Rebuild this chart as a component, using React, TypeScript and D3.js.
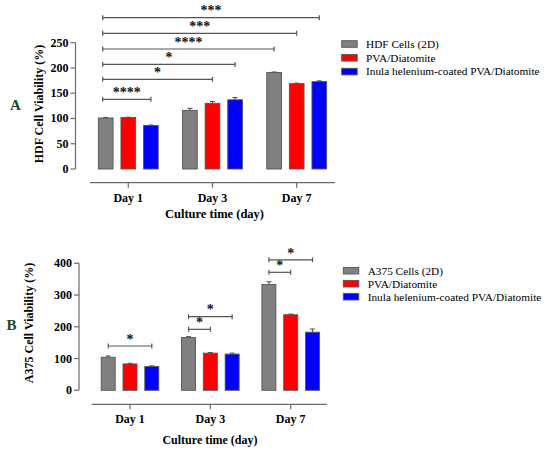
import React from "react";
import * as d3 from "d3";

// ---------- Data ----------
const days = ["Day 1", "Day 3", "Day 7"];

const seriesA = ["HDF Cells (2D)", "PVA/Diatomite", "Inula helenium-coated PVA/Diatomite"];
const hdfGray = [101, 116, 191];
const hdfRed = [102, 130, 169];
const hdfBlue = [86, 137, 173];
const hdfGrayErr = [1, 4, 1];
const hdfRedErr = [0.5, 3.5, 1];
const hdfBlueErr = [1, 4.5, 1.5];
const yTicksA = [0, 50, 100, 150, 200, 250];
// comparisons: [fromDay, fromSeries, toDay, toSeries, level, label]
const sigA: [number, number, number, number, number, string][] = [
  [0, 0, 0, 2, 138, "****"],
  [0, 0, 1, 1, 177.5, "*"],
  [0, 0, 1, 2, 207, "*"],
  [0, 0, 2, 0, 237.5, "****"],
  [0, 0, 2, 1, 268.5, "***"],
  [0, 0, 2, 2, 299.5, "***"],
];

const seriesB = ["A375 Cells (2D)", "PVA/Diatomite", "Inula helenium-coated PVA/Diatomite"];
const a375Gray = [104, 166, 333];
const a375Red = [83, 117, 238];
const a375Blue = [75, 114, 183];
const a375GrayErr = [4, 3, 9];
const a375RedErr = [2, 2, 2];
const a375BlueErr = [2, 3, 10];
const yTicksB = [0, 100, 200, 300, 400];
const sigB: [number, number, number, number, number, string][] = [
  [0, 0, 0, 2, 139.5, "*"],
  [1, 0, 1, 1, 192, "*"],
  [1, 0, 1, 2, 232, "*"],
  [2, 0, 2, 1, 371.6, "*"],
  [2, 0, 2, 2, 411, "*"],
];

const colors = ["#808080", "#ff0000", "#0000ff"];
const FONT = "'Liberation Serif', 'Times New Roman', serif";

type PanelCfg = {
  letter: string;
  letterX: number;
  letterY: number;
  yLabel: string;
  yLabelX: number;
  yLabelY: number;
  yDomain: [number, number];
  yRange: [number, number];
  yTicks: number[];
  axisX: number;
  xAxisY: number;
  xAxisX0: number;
  xAxisX1: number;
  groupRange: [number, number];
  pitch: number;
  bw: number;
  values: number[][];
  errs: number[][];
  sig: [number, number, number, number, number, string][];
  startOffset: number;
  dayLabelY: number;
  xTitleX: number;
  xTitleY: number;
  xTitleSize: number;
  series: string[];
  legX: number;
  legY0: number;
  legStep: number;
  legTextX: number;
};

function Panel({ c }: { c: PanelCfg }) {
  const y = d3.scaleLinear().domain(c.yDomain).range(c.yRange);
  const xg = d3.scalePoint<string>().domain(days).range(c.groupRange);
  const xs = d3.scalePoint<number>().domain([0, 1, 2]).range([-c.pitch, c.pitch]);
  const cx = (d: number, s: number) => (xg(days[d]) as number) + (xs(s) as number);
  const axisColor = "#6b6b6b";
  return (
    <g>
      <text x={c.letterX} y={c.letterY} fontFamily={FONT} fontWeight="bold" fontSize={15} fill="#1c4a1c" textAnchor="middle">
        {c.letter}
      </text>
      <text
        transform={`translate(${c.yLabelX},${c.yLabelY}) rotate(-90)`}
        fontFamily={FONT}
        fontWeight="bold"
        fontSize={12}
        textAnchor="middle"
        fill="#000"
      >
        {c.yLabel}
      </text>
      {/* y axis */}
      <line x1={c.axisX} x2={c.axisX} y1={y(c.yDomain[0])} y2={y(c.yDomain[1])} stroke={axisColor} strokeWidth={1.2} />
      {c.yTicks.map((t) => (
        <g key={t}>
          <line x1={c.axisX - 5} x2={c.axisX} y1={y(t)} y2={y(t)} stroke={axisColor} strokeWidth={1.2} />
          <text x={c.axisX - 7} y={y(t) + 4} textAnchor="end" fontFamily={FONT} fontWeight="bold" fontSize={12} fill="#000">
            {t}
          </text>
        </g>
      ))}
      {/* x axis */}
      <line x1={c.xAxisX0} x2={c.xAxisX1} y1={c.xAxisY} y2={c.xAxisY} stroke={axisColor} strokeWidth={1.2} />
      {days.map((d) => (
        <g key={d}>
          <line x1={xg(d)} x2={xg(d)} y1={c.xAxisY} y2={c.xAxisY + 5} stroke={axisColor} strokeWidth={1.2} />
          <text x={xg(d)} y={c.dayLabelY} textAnchor="middle" fontFamily={FONT} fontWeight="bold" fontSize={12} fill="#000">
            {d}
          </text>
        </g>
      ))}
      <text x={c.xTitleX} y={c.xTitleY} textAnchor="middle" fontFamily={FONT} fontWeight="bold" fontSize={c.xTitleSize} fill="#000">
        Culture time (day)
      </text>
      {/* bars */}
      {c.values.map((vals, s) =>
        vals.map((v, d) => {
          const x0 = cx(d, s) - c.bw / 2;
          const e = c.errs[s][d];
          return (
            <g key={`${s}-${d}`}>
              <line x1={cx(d, s)} x2={cx(d, s)} y1={y(v)} y2={y(v + e)} stroke="#555" strokeWidth={1.1} />
              <line x1={cx(d, s) - 2.5} x2={cx(d, s) + 2.5} y1={y(v + e)} y2={y(v + e)} stroke="#555" strokeWidth={1.1} />
              <rect x={x0} y={y(v)} width={c.bw} height={y(0) - y(v)} fill={colors[s]} stroke="#555" strokeWidth={0.9} />
            </g>
          );
        })
      )}
      {/* significance brackets */}
      {c.sig.map(([d0, s0, d1, s1, lev, lab], i) => {
        const xa = cx(d0, s0) + c.startOffset;
        const xb = cx(d1, s1);
        const yy = y(lev);
        return (
          <g key={i}>
            <line x1={xa} x2={xb} y1={yy} y2={yy} stroke="#555" strokeWidth={1.2} />
            <line x1={xa} x2={xa} y1={yy - 2.5} y2={yy + 2.5} stroke="#555" strokeWidth={1.2} />
            <line x1={xb} x2={xb} y1={yy - 2.5} y2={yy + 2.5} stroke="#555" strokeWidth={1.2} />
            <text x={(xa + xb) / 2} y={yy - 2.3} textAnchor="middle" fontFamily={FONT} fontWeight="bold" fontSize={14} fill="#111">
              {lab}
            </text>
          </g>
        );
      })}
      {/* legend */}
      {c.series.map((s, i) => (
        <g key={s}>
          <rect x={c.legX} y={c.legY0 + i * c.legStep - 3.3} width={15.5} height={6.6} fill={colors[i]} stroke="#555" strokeWidth={0.9} />
          <text x={c.legTextX} y={c.legY0 + i * c.legStep + 3.8} fontFamily={FONT} fontSize={11.3} fill="#000">
            {s}
          </text>
        </g>
      ))}
    </g>
  );
}

const panelA: PanelCfg = {
  letter: "A",
  letterX: 15.5,
  letterY: 109.5,
  yLabel: "HDF Cell Viability (%)",
  yLabelX: 42.5,
  yLabelY: 104,
  yDomain: [0, 250],
  yRange: [169, 42.7],
  yTicks: yTicksA,
  axisX: 75.5,
  xAxisY: 182.7,
  xAxisX0: 90,
  xAxisX1: 335,
  groupRange: [128.3, 296.7],
  pitch: 22.6,
  bw: 14.7,
  values: [hdfGray, hdfRed, hdfBlue],
  errs: [hdfGrayErr, hdfRedErr, hdfBlueErr],
  sig: sigA,
  startOffset: -3,
  dayLabelY: 201.5,
  xTitleX: 214.5,
  xTitleY: 217.5,
  xTitleSize: 12.5,
  series: seriesA,
  legX: 341.7,
  legY0: 44,
  legStep: 13.8,
  legTextX: 366,
};

const panelB: PanelCfg = {
  letter: "B",
  letterX: 11.5,
  letterY: 330,
  yLabel: "A375 Cell Viability (%)",
  yLabelX: 32.5,
  yLabelY: 323,
  yDomain: [0, 400],
  yRange: [390.3, 263.3],
  yTicks: yTicksB,
  axisX: 79,
  xAxisY: 404.3,
  xAxisX0: 91.7,
  xAxisX1: 326.7,
  groupRange: [130, 290.7],
  pitch: 21.8,
  bw: 14,
  values: [a375Gray, a375Red, a375Blue],
  errs: [a375GrayErr, a375RedErr, a375BlueErr],
  sig: sigB,
  startOffset: 0,
  dayLabelY: 422.5,
  xTitleX: 210,
  xTitleY: 443.5,
  xTitleSize: 12,
  series: seriesB,
  legX: 343.3,
  legY0: 270.7,
  legStep: 13,
  legTextX: 367.7,
};

export default function App() {
  return (
    <svg
      width={550}
      height={451}
      viewBox="0 0 550 451"
      style={{ position: "absolute", left: 0, top: 0, background: "#fff" }}
    >
      <rect width={550} height={451} fill="#fff" />
      <Panel c={panelA} />
      <Panel c={panelB} />
    </svg>
  );
}
